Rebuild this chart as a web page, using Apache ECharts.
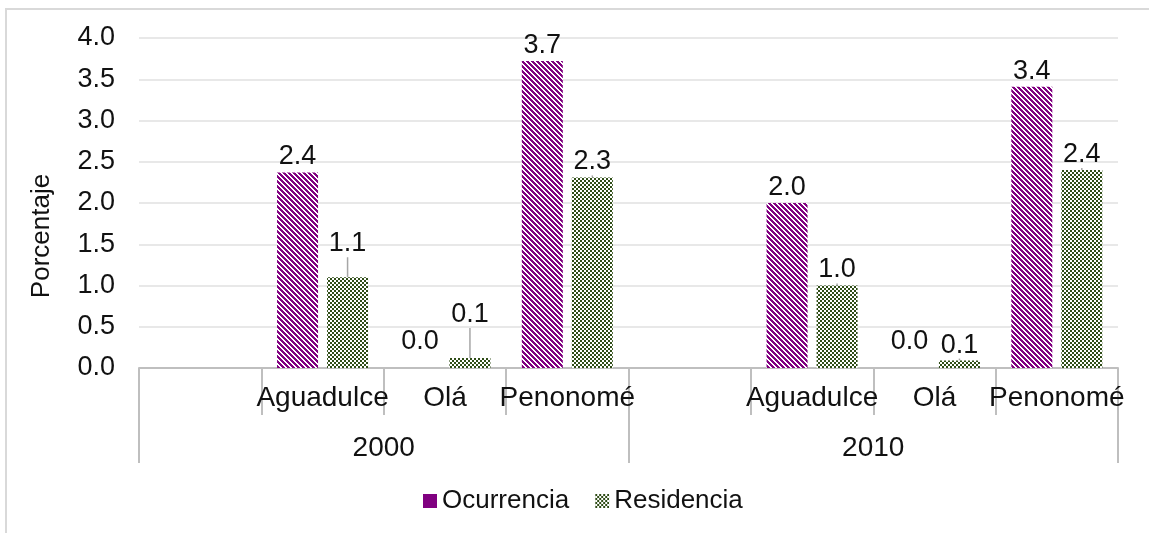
<!DOCTYPE html>
<html>
<head>
<meta charset="utf-8">
<script src="https://cdn.jsdelivr.net/npm/echarts@6/dist/echarts.min.js"></script>
<style>html,body{margin:0;padding:0;background:#fff;}#c{width:1149px;height:533px;}</style>
</head>
<body>
<div id="c"></div>
<script>
const categories = ['', 'Aguadulce', 'Olá', 'Penonomé', '', 'Aguadulce', 'Olá', 'Penonomé'];
const years = ['2000', '2010'];
const ocurrencia = [null, 2.37, 0.0, 3.72, null, 2.0, 0.0, 3.41];
const residencia = [null, 1.1, 0.12, 2.31, null, 1.0, 0.09, 2.4];
const yTicks = [0, 0.5, 1.0, 1.5, 2.0, 2.5, 3.0, 3.5, 4.0];
const seriesNames = ['Ocurrencia', 'Residencia'];

const FONT = "'Liberation Sans', Arial, sans-serif";
const PURPLE = '#800080';
const GREEN = '#2f4d17';

function stripeCanvas() {
  const n = 5;
  const c = document.createElement('canvas');
  c.width = n; c.height = n;
  const ctx = c.getContext('2d');
  ctx.fillStyle = '#fff'; ctx.fillRect(0, 0, n, n);
  ctx.fillStyle = PURPLE;
  for (let y = 0; y < n; y++) for (let x = 0; x < n; x++) {
    if (((x - y) % n + n) % n < 3) ctx.fillRect(x, y, 1, 1);
  }
  return c;
}
function checkerCanvas() {
  const c = document.createElement('canvas');
  c.width = 4; c.height = 4;
  const ctx = c.getContext('2d');
  ctx.fillStyle = '#fff'; ctx.fillRect(0, 0, 4, 4);
  ctx.fillStyle = GREEN;
  ctx.fillRect(0, 0, 2, 2); ctx.fillRect(2, 2, 2, 2);
  return c;
}
const stripePat = { image: stripeCanvas(), repeat: 'repeat' };
const checkPat = { image: checkerCanvas(), repeat: 'repeat' };

// label shifts (series, dataIndex) -> dy
const labelShift = { '1-1': -18, '1-2': -28, '0-2': -11, '0-6': -11 };

const chart = echarts.init(document.getElementById('c'), null, { renderer: 'canvas' });
const labelCommon = {
  show: true, position: 'top', distance: 2,
  fontFamily: FONT, fontSize: 27, color: '#111',
  formatter: p => (p.value == null ? '' : Number(p.value).toFixed(1))
};
chart.setOption({
  animation: false,
  textStyle: { fontFamily: FONT },
  grid: { left: 139, right: 31, top: 38, bottom: 165, containLabel: false },
  legend: {
    left: 418, top: 483, itemWidth: 14, itemHeight: 14, itemGap: 26,
    textStyle: { fontFamily: FONT, fontSize: 26, color: '#111' },
    data: [
      { name: seriesNames[0], icon: 'rect', itemStyle: { color: PURPLE } },
      { name: seriesNames[1], icon: 'rect' }
    ]
  },
  xAxis: [
    {
      type: 'category', gridIndex: 0, position: 'bottom',
      data: categories.map((_, i) => String(i)),
      boundaryGap: true,
      axisLine: { lineStyle: { color: '#bfbfbf', width: 2 } },
      axisTick: { show: true, interval: 0, length: 47, lineStyle: { color: '#bfbfbf', width: 2 } },
      axisLabel: { interval: 0, margin: 16, fontSize: 28, fontFamily: FONT, color: '#111',
        formatter: v => categories[+v] },
      splitLine: { show: false }
    },
    {
      type: 'category', gridIndex: 0, position: 'bottom',
      data: years, boundaryGap: true,
      axisLine: { show: false },
      axisTick: { show: true, interval: 0, length: 95, lineStyle: { color: '#bfbfbf', width: 2 } },
      axisLabel: { interval: 0, margin: 66, fontSize: 28, fontFamily: FONT, color: '#111' },
      splitLine: { show: false }
    }
  ],
  yAxis: {
    type: 'value', min: yTicks[0], max: yTicks[yTicks.length - 1], interval: 0.5,
    axisLine: { show: false }, axisTick: { show: false },
    axisLabel: { margin: 24, fontSize: 27, fontFamily: FONT, color: '#111',
      formatter: v => v.toFixed(1) },
    splitLine: { lineStyle: { color: '#e8e8e8', width: 2 } }
  },
  series: [
    {
      name: seriesNames[0], type: 'bar', xAxisIndex: 0, data: ocurrencia,
      barWidth: 41, barGap: '22%',
      itemStyle: { color: stripePat },
      label: labelCommon,
      labelLine: { show: false },
      labelLayout: p => { const d = labelShift['0-' + p.dataIndex]; return d ? { dy: d } : {}; }
    },
    {
      name: seriesNames[1], type: 'bar', xAxisIndex: 0, data: residencia,
      barWidth: 41, barGap: '22%',
      itemStyle: { color: checkPat },
      label: labelCommon,
      labelLine: { show: true, lineStyle: { color: '#a6a6a6', width: 1.5 } },
      labelLayout: p => { const d = labelShift['1-' + p.dataIndex]; return d ? { dy: d } : {}; }
    }
  ],
  graphic: [
    { type: 'rect', shape: { x: 6, y: 9, width: 1300, height: 700 },
      style: { fill: 'none', stroke: '#d9d9d9', lineWidth: 2 }, silent: true, z: -1 },
    { type: 'text', x: 42, y: 236, rotation: Math.PI / 2,
      style: { text: 'Porcentaje', font: '26px ' + FONT, fill: '#111',
        textAlign: 'center', textVerticalAlign: 'middle' } }
  ]
});
</script>
</body>
</html>
